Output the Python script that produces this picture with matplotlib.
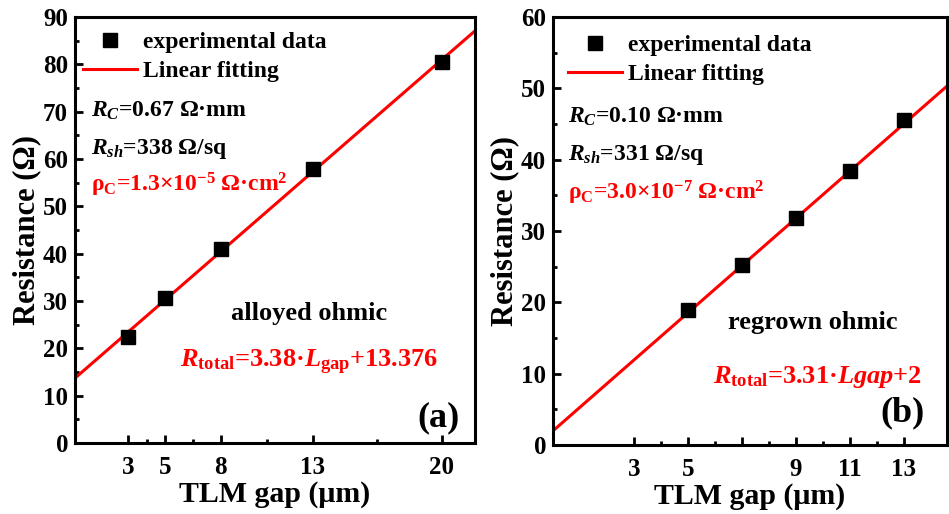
import matplotlib
matplotlib.use("Agg")
import matplotlib.pyplot as plt
import numpy as np
from matplotlib.lines import Line2D

plt.rcParams['font.family'] = ['Liberation Serif', 'DejaVu Serif']
plt.rcParams['font.weight'] = 'bold'
plt.rcParams['mathtext.fontset'] = 'custom'
plt.rcParams['mathtext.rm'] = 'Liberation Serif:bold'
plt.rcParams['mathtext.bf'] = 'Liberation Serif:bold'
plt.rcParams['mathtext.it'] = 'Liberation Serif:italic:bold'
plt.rcParams['mathtext.default'] = 'it'

# ---- data ----
gap_a = [3, 5, 8, 13, 20]
res_a = [22.3, 30.7, 41.0, 57.9, 80.5]
slope_a, icpt_a = 3.38, 13.376
xticks_a = [3, 5, 8, 13, 20]
xminor_a = [4, 6.5, 10.5, 16.5]

gap_b = [5, 7, 9, 11, 13]
res_b = [18.9, 25.3, 31.8, 38.4, 45.5]
slope_b, icpt_b = 3.31, 2.0
xticks_b = [3, 5, 7, 9, 11, 13]
xticklabels_b = ['3', '5', '', '9', '11', '13']
xminor_b = [4, 6, 8, 10, 12]

RED = '#ff0000'
fig = plt.figure(figsize=(9.49, 5.14), dpi=100)
ax1 = fig.add_axes([0.079, 0.138, 0.4215, 0.829])
ax2 = fig.add_axes([0.5827, 0.134, 0.4153, 0.833])

def style(ax):
    for s in ax.spines.values():
        s.set_linewidth(2.2)
    ax.tick_params(direction='in', width=2, length=6, labelsize=18, pad=5)
    ax.tick_params(axis='x', pad=9)
    ax.tick_params(which='minor', direction='in', width=2, length=3)
    for lab in ax.get_xticklabels() + ax.get_yticklabels():
        lab.set_fontweight('bold')
    ax.set_xlabel('TLM gap (μm)', fontsize=21.5, fontweight='bold', labelpad=2)
    ax.set_ylabel('Resistance (Ω)', fontsize=22, fontweight='bold')
    ax.yaxis.set_label_coords(-0.085, 0.5)

# ---- panel (a) ----
xl_a = (0.1, 21.8)
ax1.set_xlim(*xl_a)
ax1.set_ylim(0, 90)
xx = np.array(xl_a)
ax1.plot(xx, slope_a * xx + icpt_a, color=RED, lw=2.2, zorder=2)
ax1.plot(gap_a, res_a, 's', color='black', ms=9.5, zorder=3)
ax1.set_xticks(xticks_a)
ax1.set_xticks(xminor_a, minor=True)
ax1.set_yticks(np.arange(0, 91, 10))
ax1.set_yticks(np.arange(5, 90, 10), minor=True)
style(ax1)

# ---- panel (b) ----
xl_b = (0.0, 14.6)
ax2.set_xlim(*xl_b)
ax2.set_ylim(0, 60)
xx = np.array(xl_b)
ax2.plot(xx, slope_b * xx + icpt_b, color=RED, lw=2.2, zorder=2)
ax2.plot(gap_b, res_b, 's', color='black', ms=9.5, zorder=3)
ax2.set_xticks(xticks_b)
ax2.set_xticklabels(xticklabels_b)
ax2.set_xticks(xminor_b, minor=True)
ax2.set_yticks(np.arange(0, 61, 10))
ax2.set_yticks(np.arange(5, 60, 10), minor=True)
style(ax2)

for ax, anchor in ((ax1, (0.02, 0.965)), (ax2, (0.038, 0.958))):
    handles = [Line2D([], [], ls='none', marker='s', color='black', ms=9.5),
               Line2D([], [], color=RED, lw=2.2)]
    ax.legend(handles, ['experimental data', 'Linear fitting'],
              loc='upper left', bbox_to_anchor=anchor, frameon=False,
              borderaxespad=0, borderpad=0,
              prop={'size': 17, 'weight': 'bold'}, handlelength=2.3,
              handletextpad=0.25, labelspacing=0.3)

fs = 17
# annotations (a)
ax1.text(0.04, 0.78, r'$R_C$=0.67 Ω·mm', transform=ax1.transAxes, fontsize=fs, va='center')
ax1.text(0.04, 0.69, r'$R_{sh}$=338 Ω/sq', transform=ax1.transAxes, fontsize=fs, va='center')
ax1.text(0.04, 0.605, r'ρ$_\mathrm{C}$=1.3×10$^{\mathrm{-5}}$ Ω·cm$^\mathrm{2}$',
         transform=ax1.transAxes, fontsize=fs, va='center', color=RED)
ax1.text(0.585, 0.305, 'alloyed ohmic', transform=ax1.transAxes, fontsize=19, ha='center', va='center')
ax1.text(0.585, 0.19, r'$R_\mathrm{total}$=3.38·$L_\mathrm{gap}$+13.376', transform=ax1.transAxes,
         fontsize=19, ha='center', va='center', color=RED)
ax1.text(0.9625, 0.06, '(a)', transform=ax1.transAxes, fontsize=26, ha='right', va='center')

# annotations (b)
ax2.text(0.038, 0.766, r'$R_C$=0.10 Ω·mm', transform=ax2.transAxes, fontsize=fs, va='center')
ax2.text(0.038, 0.678, r'$R_{sh}$=331 Ω/sq', transform=ax2.transAxes, fontsize=fs, va='center')
ax2.text(0.038, 0.59, r'ρ$_\mathrm{C}$=3.0×10$^{\mathrm{-7}}$ Ω·cm$^\mathrm{2}$',
         transform=ax2.transAxes, fontsize=fs, va='center', color=RED)
ax2.text(0.658, 0.287, 'regrown ohmic', transform=ax2.transAxes, fontsize=19, ha='center', va='center')
ax2.text(0.67, 0.16, r'$R_\mathrm{total}$=3.31·$Lgap$+2', transform=ax2.transAxes,
         fontsize=19, ha='center', va='center', color=RED)
ax2.text(0.944, 0.075, '(b)', transform=ax2.transAxes, fontsize=26, ha='right', va='center')

fig.savefig('out.png', dpi=100)
